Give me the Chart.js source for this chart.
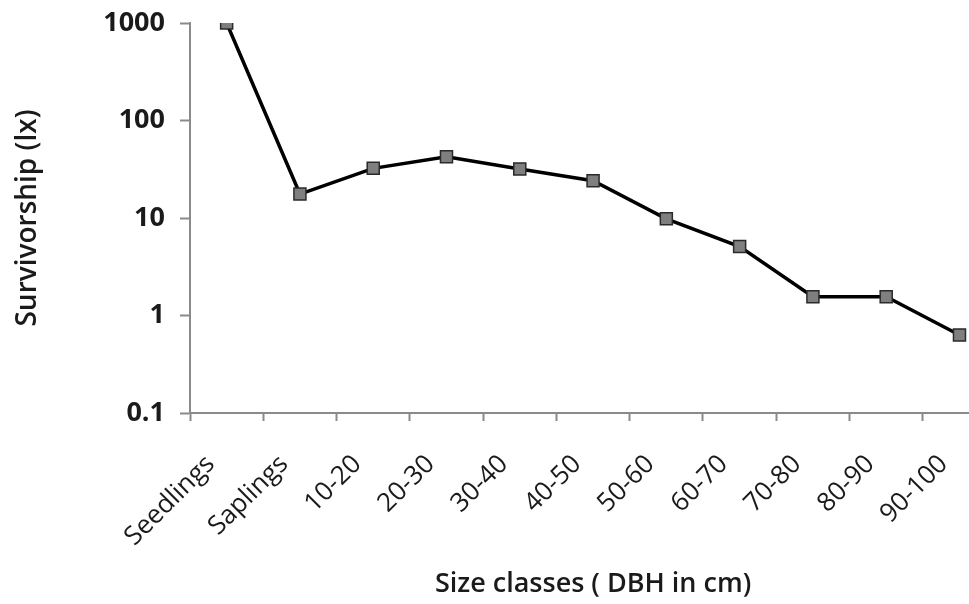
<!DOCTYPE html>
<html>
<head>
<meta charset="utf-8">
<script src="https://cdn.jsdelivr.net/npm/chart.js@4.4.1/dist/chart.umd.min.js"></script>
<style>
  html, body { margin: 0; padding: 0; overflow: hidden; background: #fff; }
  #wrap { width: 1010px; height: 604px; }
</style>
</head>
<body>
<div id="wrap"><canvas id="survival"></canvas></div>
<script>
const sizeClasses = [
  'Seedlings', 'Saplings', '10-20', '20-30', '30-40', '40-50',
  '50-60', '60-70', '70-80', '80-90', '90-100'
];
const survivorship = [1000, 17.6, 32.3, 42.5, 31.8, 24.1, 9.8, 5.1, 1.56, 1.56, 0.63];
const yTicks = [0.1, 1, 10, 100, 1000];

const axisGrey = '#8a8a8a';
const fontFamily = '"Open Sans", Lato, sans-serif';

const ctx = document.getElementById('survival');

new Chart(ctx, {
  type: 'line',
  data: {
    labels: sizeClasses,
    datasets: [{
      data: survivorship,
      borderColor: '#000',
      borderWidth: 3.5,
      pointStyle: 'rect',
      pointRadius: 8.5,
      pointBackgroundColor: '#7f7f7f',
      pointBorderColor: '#2a2a2a',
      pointBorderWidth: 1.5,
      tension: 0,
    }]
  },
  options: {
    responsive: true,
    maintainAspectRatio: false,
    animation: false,
    layout: { padding: { top: 23, right: 10, bottom: 0, left: 0 } },
    plugins: {
      legend: { display: false },
      tooltip: { enabled: false },
    },
    scales: {
      x: {
        type: 'category',
        offset: true,
        grid: {
          offset: true,
          drawOnChartArea: false,
          tickLength: 8,
          color: axisGrey,
          tickWidth: 2,
        },
        border: { color: axisGrey, width: 2 },
        ticks: {
          minRotation: 45,
          maxRotation: 45,
          padding: 28,
          labelOffset: -16,
          color: '#1a1a1a',
          font: { family: fontFamily, size: 26 },
        },
        title: {
          display: true,
          text: 'Size classes ( DBH in cm)',
          color: '#1a1a1a',
          font: { family: fontFamily, size: 27, weight: '600' },
          padding: { top: 0, bottom: 3 },
        },
        afterFit: (scale) => { scale.height = 191; },
      },
      y: {
        type: 'logarithmic',
        min: 0.1,
        max: 1000,
        afterBuildTicks: (scale) => {
          scale.ticks = yTicks.map(v => ({ value: v }));
        },
        grid: {
          drawOnChartArea: false,
          tickLength: 10,
          color: axisGrey,
          tickWidth: 2,
        },
        border: { color: axisGrey, width: 2 },
        ticks: {
          padding: 15,
          color: '#1a1a1a',
          font: { family: fontFamily, size: 27, weight: 'bold' },
          callback: (value) => String(value),
        },
        title: {
          display: true,
          text: 'Survivorship (lx)',
          color: '#1a1a1a',
          font: { family: fontFamily, size: 28, weight: '600' },
          padding: { top: 11, bottom: 0 },
        },
        afterFit: (scale) => {
          scale.width = 190;
          scale.paddingTop = 0;
          scale.paddingBottom = 0;
        },
      }
    }
  }
});
</script>
</body>
</html>
